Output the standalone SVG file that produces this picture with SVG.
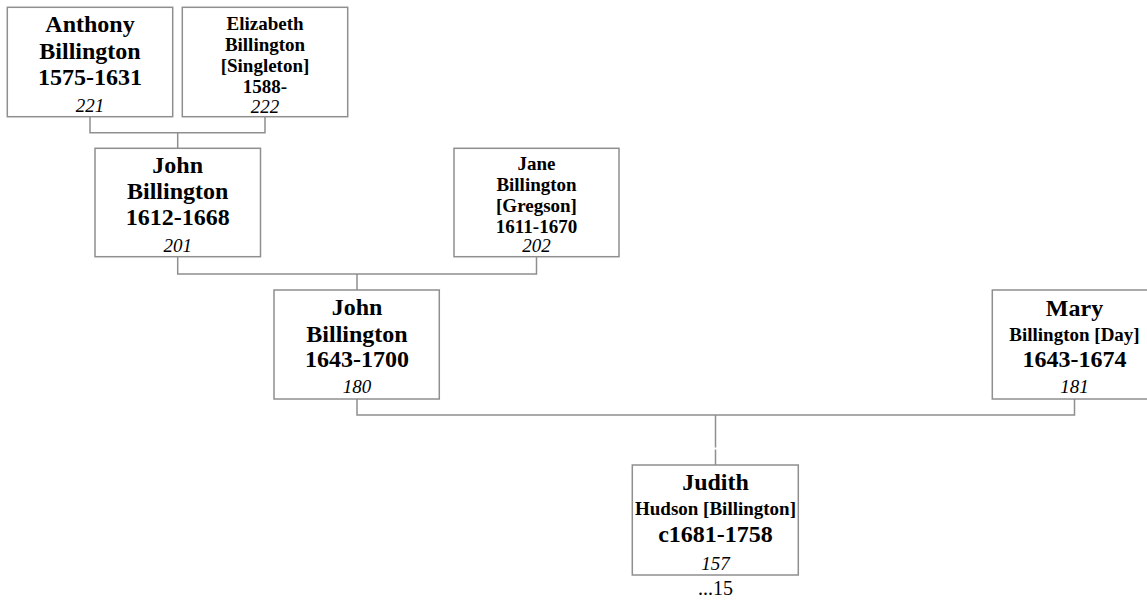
<svg xmlns="http://www.w3.org/2000/svg" width="1147" height="600" viewBox="0 0 1147 600">
<style>
.box{fill:#fff;stroke:#8f8f8f;stroke-width:1.5}
.ln{fill:none;stroke:#8f8f8f;stroke-width:1.5}
text{font-family:"Liberation Serif","Times New Roman",serif;text-anchor:middle;fill:#000}
.b24{font-weight:bold;font-size:24px}
.b19{font-weight:bold;font-size:19px}
.i{font-style:italic;font-size:19px}
.r{font-size:20px}
</style>
<rect width="1147" height="600" fill="#fff"/>
<g id="connectors">
<path class="ln" d="M90,116.7V132.7H265V116.7M177.7,132.7V148.3"/>
<path class="ln" d="M177.7,256.7V274H536.5V256.7M357,274V290"/>
<path class="ln" d="M357,399V415H1074.5V399M715.5,415V447.5M715.5,449.5V465"/>
</g>
<g id="anthony">
<rect class="box" x="7.3" y="7.3" width="165.4" height="109.4"/>
<text x="90" y="31.7" class="b24">Anthony</text>
<text x="90" y="59" class="b24">Billington</text>
<text x="90" y="85" class="b24">1575-1631</text>
<text x="90" y="111.5" class="i">221</text>
</g>
<g id="elizabeth">
<rect class="box" x="182.3" y="7.3" width="165.4" height="109.4"/>
<text x="265" y="30" class="b19">Elizabeth</text>
<text x="265" y="50.7" class="b19">Billington</text>
<text x="265" y="71.7" class="b19">[Singleton]</text>
<text x="265" y="93.3" class="b19">1588-</text>
<text x="265" y="112.7" class="i">222</text>
</g>
<g id="john1612">
<rect class="box" x="95" y="148.3" width="165.5" height="108.4"/>
<text x="177.7" y="173.3" class="b24">John</text>
<text x="177.7" y="199.3" class="b24">Billington</text>
<text x="177.7" y="225" class="b24">1612-1668</text>
<text x="177.7" y="251.5" class="i">201</text>
</g>
<g id="jane">
<rect class="box" x="454" y="148.3" width="165" height="108.4"/>
<text x="536.5" y="170" class="b19">Jane</text>
<text x="536.5" y="190.7" class="b19">Billington</text>
<text x="536.5" y="211.7" class="b19">[Gregson]</text>
<text x="536.5" y="232.7" class="b19">1611-1670</text>
<text x="536.5" y="251.7" class="i">202</text>
</g>
<g id="john1643">
<rect class="box" x="274" y="290" width="165.3" height="109"/>
<text x="357" y="315" class="b24">John</text>
<text x="357" y="341.5" class="b24">Billington</text>
<text x="357" y="367.3" class="b24">1643-1700</text>
<text x="357" y="393.3" class="i">180</text>
</g>
<g id="mary">
<rect class="box" x="992.3" y="290" width="165" height="109"/>
<text x="1074.5" y="316.3" class="b24">Mary</text>
<text x="1074.5" y="341.3" class="b19">Billington [Day]</text>
<text x="1074.5" y="367" class="b24">1643-1674</text>
<text x="1074.5" y="393" class="i">181</text>
</g>
<g id="judith">
<rect class="box" x="632.3" y="465" width="166" height="110"/>
<text x="715.5" y="490" class="b24">Judith</text>
<text x="715.5" y="515" class="b19">Hudson [Billington]</text>
<text x="715.5" y="541.7" class="b24">c1681-1758</text>
<text x="715.5" y="569.5" class="i">157</text>
<text x="715.5" y="595" class="r">...15</text>
</g>
</svg>
